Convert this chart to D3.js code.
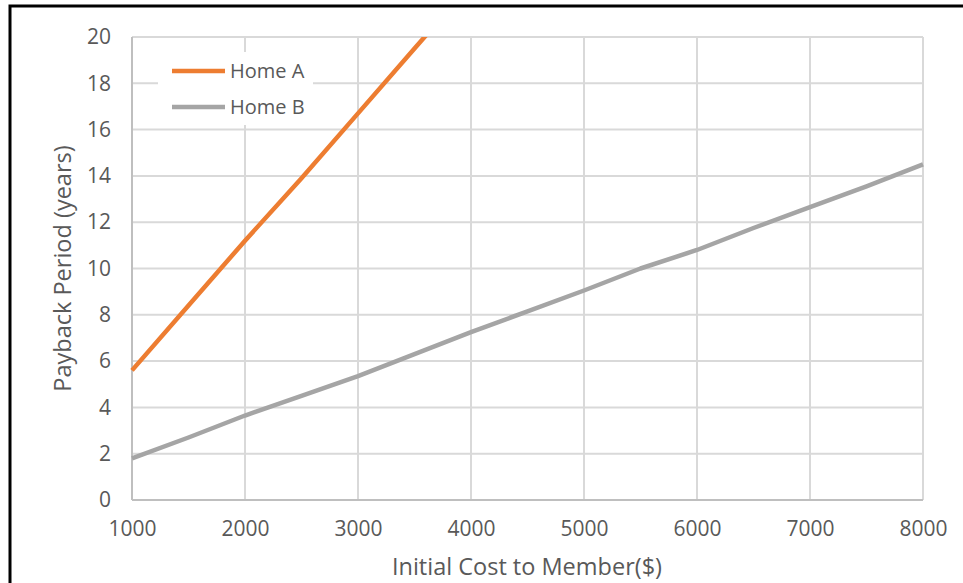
<!DOCTYPE html>
<html>
<head>
<meta charset="utf-8">
<script src="https://cdn.jsdelivr.net/npm/d3@7"></script>
<style>
  body { margin: 0; background: #fff; }
  text { font-family: "Open Sans", "Noto Sans", sans-serif; fill: #595959; }
</style>
</head>
<body>
<div id="chart"></div>
<script>
// initial cost ($) on x, payback period (years) on y
const costs = [1000, 1500, 2000, 2500, 3000, 3500, 4000, 4500, 5000, 5500, 6000, 6500, 7000, 7500, 8000];
const homeA = [5.6, 8.4, 11.2, 13.9, 16.7, 19.5, 22.3, null, null, null, null, null, null, null, null];
const homeB = [1.8, 2.7, 3.65, 4.5, 5.35, 6.3, 7.25, 8.15, 9.05, 10.0, 10.8, 11.75, 12.65, 13.55, 14.5];
const seriesNames = ['Home A', 'Home B'];
const xTicks = [1000, 2000, 3000, 4000, 5000, 6000, 7000, 8000];
const yTicks = [0, 2, 4, 6, 8, 10, 12, 14, 16, 18, 20];

const W = 963, H = 583;
const margin = { top: 37, right: 40, bottom: 83, left: 132 };
const width = 923 - margin.left;
const height = 500 - margin.top;
const colors = ['#ED7D31', '#A5A5A5'];

let svg = d3.select('#chart')
  .append('svg')
  .attr('width', W)
  .attr('height', H);

// outer frame
svg.append('rect')
  .attr('x', 10).attr('y', 6)
  .attr('width', 980).attr('height', 700)
  .attr('fill', 'none')
  .attr('stroke', '#000')
  .attr('stroke-width', 3);

let g = svg.append('g').attr('transform', `translate(${margin.left},${margin.top})`);

let x = d3.scaleLinear().domain([1000, 8000]).range([0, width]);
let y = d3.scaleLinear().domain([0, 20]).range([height, 0]);

// grid
g.append('g')
  .selectAll('line')
  .data(yTicks)
  .join('line')
  .attr('x1', 0).attr('x2', width)
  .attr('y1', d => y(d)).attr('y2', d => y(d))
  .attr('stroke', '#D9D9D9').attr('stroke-width', 2);

g.append('g')
  .selectAll('line')
  .data(xTicks)
  .join('line')
  .attr('x1', d => x(d)).attr('x2', d => x(d))
  .attr('y1', 0).attr('y2', height)
  .attr('stroke', '#D9D9D9').attr('stroke-width', 2);

// axis lines
g.append('line')
  .attr('x1', 0).attr('x2', width)
  .attr('y1', height).attr('y2', height)
  .attr('stroke', '#BFBFBF').attr('stroke-width', 2);
g.append('line')
  .attr('x1', 0).attr('x2', 0)
  .attr('y1', 0).attr('y2', height)
  .attr('stroke', '#BFBFBF').attr('stroke-width', 2);

// tick labels
let yAxis = g.append('g').call(d3.axisLeft(y).tickValues(yTicks).tickSize(0).tickPadding(21));
yAxis.select('.domain').remove();
yAxis.selectAll('text')
  .attr('font-family', null)
  .style('font-size', '21px').attr('fill', '#595959');

let xAxis = g.append('g')
  .attr('transform', `translate(0,${height})`)
  .call(d3.axisBottom(x).tickValues(xTicks).tickSize(0).tickPadding(21).tickFormat(d3.format('d')));
xAxis.select('.domain').remove();
xAxis.selectAll('text')
  .attr('font-family', null)
  .style('font-size', '21px').attr('fill', '#595959');

// axis titles
svg.append('text')
  .attr('x', 527)
  .attr('y', 575)
  .attr('text-anchor', 'middle')
  .style('font-size', '23.5px')
  .text('Initial Cost to Member($)');

svg.append('text')
  .attr('transform', `translate(71,${margin.top + height / 2}) rotate(-90)`)
  .attr('text-anchor', 'middle')
  .style('font-size', '23.5px')
  .text('Payback Period (years)');

// clip lines to plot area
svg.append('defs').append('clipPath').attr('id', 'plot')
  .append('rect').attr('x', -5).attr('y', 0).attr('width', width + 10).attr('height', height + 5);

let line = d3.line()
  .defined(d => d[1] != null)
  .x(d => x(d[0]))
  .y(d => y(d[1]));

[homeA, homeB].forEach((vals, i) => {
  g.append('path')
    .datum(costs.map((c, j) => [c, vals[j]]))
    .attr('clip-path', 'url(#plot)')
    .attr('d', line)
    .attr('fill', 'none')
    .attr('stroke', colors[i])
    .attr('stroke-width', 4.5)
    .attr('stroke-linejoin', 'round');
});

// legend
let legend = svg.append('g');
legend.append('rect')
  .attr('x', 158).attr('y', 52)
  .attr('width', 155).attr('height', 73)
  .attr('fill', '#fff');

seriesNames.forEach((name, i) => {
  let ly = 71 + i * 36;
  legend.append('line')
    .attr('x1', 172).attr('x2', 225)
    .attr('y1', ly).attr('y2', ly)
    .attr('stroke', colors[i]).attr('stroke-width', 4.5);
  legend.append('text')
    .attr('x', 230).attr('y', ly + 7)
    .style('font-size', '20px')
    .text(name);
});
</script>
</body>
</html>
